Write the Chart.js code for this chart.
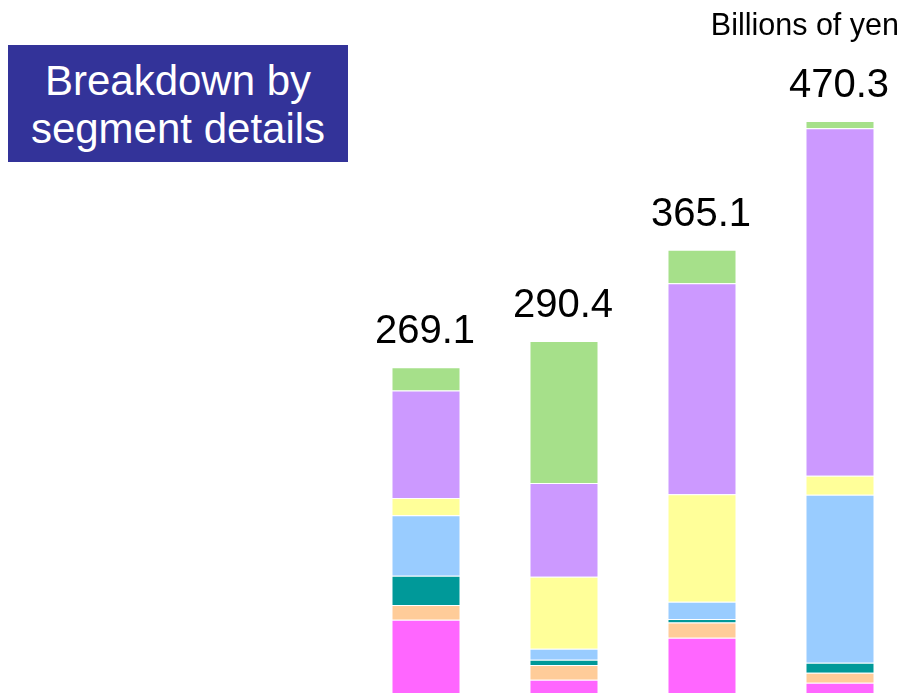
<!DOCTYPE html>
<html>
<head>
<meta charset="utf-8">
<script src="https://cdn.jsdelivr.net/npm/chart.js@4/dist/chart.umd.min.js"></script>
<style>
  html, body { margin: 0; padding: 0; background: #fff; overflow: hidden; }
  #wrap { position: relative; width: 905px; height: 693px; overflow: hidden; }
  #chart { position: absolute; left: 0; top: 0; }
  .title-box {
    position: absolute; left: 8px; top: 45px; width: 340px; height: 117px;
    background: #333399; color: #fff;
    font-family: "Liberation Sans", Arial, sans-serif; font-size: 42px;
    line-height: 48px; text-align: center; padding-top: 11.5px; box-sizing: border-box;
  }
  .unit {
    position: absolute; right: 6px; top: 7px;
    font-family: "Liberation Sans", Arial, sans-serif; font-size: 30.5px; color: #000;
  }
</style>
</head>
<body>
<div id="wrap">
  <canvas id="chart" width="912" height="700"></canvas>
  <div class="title-box">Breakdown by<br>segment details</div>
  <div class="unit">Billions of yen</div>
</div>
<script>
// Four periods, stacked from the bottom segment up
const periods = ['P1', 'P2', 'P3', 'P4'];
const totals = [269.1, 290.4, 365.1, 470.3];

const segMagenta = [62.7, 13.6, 48.0, 11.2];
const segPeach   = [12.0, 12.0, 12.3, 8.2];
const segTeal    = [23.9, 4.3, 3.0, 8.2];
const segBlue    = [49.4, 9.0, 14.1, 137.3];
const segYellow  = [14.1, 58.8, 87.8, 15.5];
const segPurple  = [88.0, 76.8, 172.4, 283.9];
const segGreen   = [19.0, 115.9, 27.5, 6.0];

const segments = [
    { data: segMagenta, color: '#FF66FF' },
    { data: segPeach,   color: '#FFCC99' },
    { data: segTeal,    color: '#009999' },
    { data: segBlue,    color: '#99CCFF' },
    { data: segYellow,  color: '#FFFF99' },
    { data: segPurple,  color: '#CC99FF' },
    { data: segGreen,   color: '#A6E08A' }
];

// Draw the total above each stack
const totalLabels = {
    id: 'totalLabels',
    afterDatasetsDraw(chart) {
        const ctx = chart.ctx;
        const yScale = chart.scales.y;
        const meta = chart.getDatasetMeta(0);
        ctx.save();
        ctx.font = '40px "Liberation Sans", Arial, sans-serif';
        ctx.fillStyle = '#000';
        ctx.textAlign = 'center';
        ctx.textBaseline = 'alphabetic';
        totals.forEach((t, i) => {
            const x = meta.data[i].x - 1;
            const y = yScale.getPixelForValue(t) - 24;
            ctx.fillText(t.toFixed(1), x, y);
        });
        ctx.restore();
    }
};

new Chart(document.getElementById('chart'), {
    type: 'bar',
    data: {
        labels: periods,
        datasets: segments.map(s => ({
            data: s.data,
            backgroundColor: s.color,
            borderColor: 'rgba(255,255,255,0.5)',
            borderWidth: 1,
            categoryPercentage: 1.0,
            barPercentage: 0.5
        }))
    },
    options: {
        responsive: false,
        animation: false,
        layout: { padding: { left: 357, right: 3, top: 84.6, bottom: 3.6 } },
        plugins: {
            legend: { display: false },
            tooltip: { enabled: false }
        },
        scales: {
            x: { stacked: true, display: false },
            y: { stacked: true, display: false, min: 0, max: 500 }
        }
    },
    plugins: [totalLabels]
});
</script>
</body>
</html>
